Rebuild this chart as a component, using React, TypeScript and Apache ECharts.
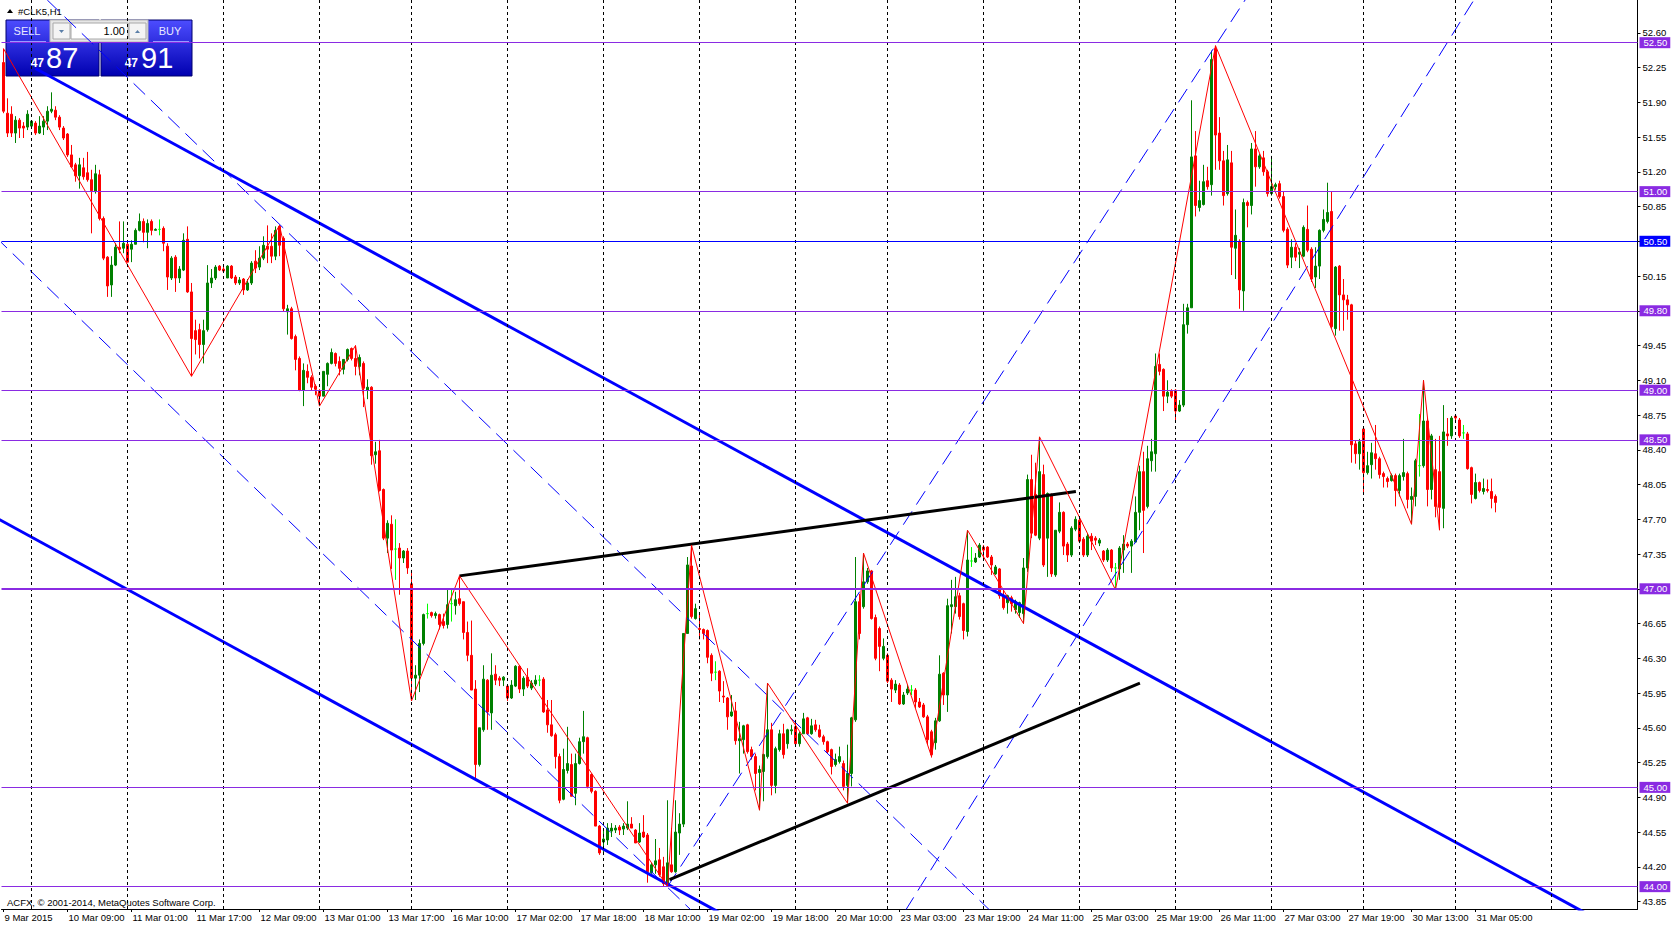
import React, { useEffect, useRef } from 'react';
import * as echarts from 'echarts';

// H1 bars of #CLK5 from 9 Mar 2015 17:00, each [open, high, low, close]
const candlesA: number[][] = [
  [52.30, 52.44, 51.79, 51.81], [51.79, 51.94, 51.55, 51.59], [51.78, 51.86, 51.55, 51.59], [51.59, 51.76, 51.49, 51.72],
  [51.72, 51.74, 51.54, 51.64], [51.66, 51.70, 51.54, 51.64], [51.65, 51.82, 51.62, 51.78], [51.66, 51.72, 51.65, 51.71],
  [51.69, 51.71, 51.57, 51.59], [51.59, 51.76, 51.58, 51.66], [51.65, 51.76, 51.57, 51.71], [51.71, 51.86, 51.62, 51.81],
  [51.81, 52.00, 51.79, 51.83], [51.82, 51.86, 51.72, 51.75], [51.75, 51.77, 51.62, 51.65], [51.64, 51.66, 51.52, 51.54],
  [51.58, 51.59, 51.35, 51.37], [51.37, 51.47, 51.24, 51.25], [51.27, 51.29, 51.10, 51.16], [51.16, 51.34, 51.03, 51.27],
  [51.24, 51.34, 51.12, 51.15], [51.19, 51.40, 51.10, 51.12], [51.12, 51.22, 50.58, 51.01], [51.00, 51.27, 50.98, 51.18],
  [51.17, 51.22, 50.71, 50.73], [50.73, 50.75, 50.31, 50.33], [50.34, 50.35, 49.94, 50.05], [50.06, 50.35, 49.94, 50.26],
  [50.26, 50.48, 50.25, 50.44], [50.44, 50.70, 50.38, 50.42], [50.43, 50.70, 50.38, 50.48], [50.47, 50.51, 50.29, 50.29],
  [50.42, 50.51, 50.29, 50.47], [50.47, 50.63, 50.47, 50.61], [50.61, 50.78, 50.60, 50.70], [50.70, 50.73, 50.49, 50.59],
  [50.59, 50.72, 50.43, 50.68], [50.70, 50.72, 50.56, 50.61], [50.61, 50.63, 50.61, 50.62], [50.62, 50.72, 50.56, 50.62],
  [50.63, 50.65, 50.40, 50.48], [50.45, 50.48, 50.01, 50.14], [50.13, 50.35, 50.11, 50.33], [50.34, 50.36, 49.99, 50.13],
  [50.13, 50.25, 50.08, 50.22], [50.21, 50.58, 50.20, 50.51], [50.52, 50.65, 49.98, 49.99], [49.99, 50.08, 49.14, 49.52],
  [49.60, 49.71, 49.36, 49.51], [49.61, 49.67, 49.32, 49.46], [49.46, 49.71, 49.27, 49.60], [49.61, 50.26, 49.59, 50.08],
  [50.08, 50.22, 50.03, 50.13], [50.13, 50.26, 50.11, 50.24], [50.25, 50.26, 50.20, 50.21], [50.22, 50.25, 50.18, 50.20],
  [50.13, 50.26, 50.13, 50.25], [50.25, 50.26, 50.12, 50.13], [50.14, 50.16, 50.06, 50.08], [50.08, 50.14, 50.06, 50.11],
  [50.12, 50.13, 49.96, 50.01], [50.01, 50.12, 50.00, 50.08], [50.08, 50.30, 50.06, 50.28], [50.30, 50.41, 50.18, 50.23],
  [50.24, 50.45, 50.21, 50.33], [50.33, 50.55, 50.31, 50.46], [50.45, 50.66, 50.28, 50.42], [50.45, 50.58, 50.28, 50.35],
  [50.35, 50.65, 50.31, 50.61], [50.65, 50.66, 50.35, 50.46], [50.53, 50.55, 49.79, 49.82], [49.79, 49.86, 49.56, 49.82],
  [49.82, 49.84, 49.51, 49.52], [49.54, 49.56, 49.20, 49.31], [49.32, 49.34, 48.99, 49.00],
];

const candlesB: number[][] = [
  [49.00, 49.27, 48.84, 49.20], [49.19, 49.26, 49.07, 49.13], [49.13, 49.15, 49.00, 49.03], [49.04, 49.06, 48.95, 49.01],
  [48.99, 49.01, 48.84, 48.94], [48.94, 49.19, 48.94, 49.19], [49.16, 49.28, 49.04, 49.27], [49.27, 49.42, 49.26, 49.38],
  [49.37, 49.38, 49.24, 49.27], [49.29, 49.34, 49.15, 49.22], [49.21, 49.31, 49.16, 49.31], [49.31, 49.42, 49.29, 49.41],
  [49.42, 49.43, 49.30, 49.32], [49.32, 49.45, 49.15, 49.24], [49.24, 49.36, 49.15, 49.33], [49.27, 49.29, 48.83, 49.02],
  [49.00, 49.11, 48.91, 49.03], [49.03, 49.04, 48.25, 48.34], [48.35, 48.48, 48.26, 48.38], [48.39, 48.50, 47.98, 47.99],
  [48.00, 48.01, 47.49, 47.51], [47.51, 47.69, 47.36, 47.66], [47.65, 47.74, 47.20, 47.39], [47.40, 47.70, 47.09, 47.40],
  [47.41, 47.46, 46.94, 47.31], [47.31, 47.39, 47.26, 47.38], [47.38, 47.41, 47.15, 47.21], [47.05, 47.19, 45.87, 46.10],
  [46.10, 46.23, 45.88, 46.13], [46.13, 46.49, 45.96, 46.45], [46.45, 46.75, 46.43, 46.74], [46.75, 46.85, 46.70, 46.75],
  [46.76, 46.77, 46.71, 46.73], [46.73, 46.77, 46.70, 46.75], [46.74, 46.75, 46.59, 46.64], [46.67, 46.75, 46.60, 46.63],
  [46.64, 46.99, 46.60, 46.84], [46.85, 46.99, 46.67, 46.85], [46.83, 46.97, 46.74, 46.89], [46.90, 47.13, 46.83, 46.85],
  [46.87, 46.87, 46.49, 46.56], [46.56, 46.67, 46.27, 46.33], [46.33, 46.68, 45.98, 45.98], [45.99, 46.08, 45.08, 45.23],
  [45.23, 45.60, 45.21, 45.60], [45.58, 46.23, 45.56, 46.09], [46.08, 46.09, 45.58, 45.76], [45.75, 46.35, 45.58, 46.13],
  [46.14, 46.23, 46.03, 46.08], [46.10, 46.12, 46.02, 46.08], [46.08, 46.12, 46.02, 46.11], [46.02, 46.03, 45.87, 45.90],
  [45.90, 46.08, 45.89, 46.03], [46.02, 46.23, 46.01, 46.22], [46.22, 46.22, 45.95, 45.99], [45.99, 46.12, 45.92, 46.10],
  [46.11, 46.20, 46.00, 46.02], [46.00, 46.08, 45.98, 46.05], [46.04, 46.13, 46.02, 46.08], [46.08, 46.13, 46.02, 46.08],
  [46.09, 46.11, 45.75, 45.76], [45.78, 45.88, 45.55, 45.63], [45.63, 45.88, 45.51, 45.52], [45.53, 45.55, 45.19, 45.31],
  [45.31, 45.34, 44.84, 44.87], [44.88, 45.39, 44.87, 45.18], [45.17, 45.61, 45.14, 45.24],
];

const candlesC: number[][] = [
  [45.23, 45.34, 44.91, 44.91], [44.94, 45.34, 44.82, 45.24], [45.24, 45.50, 45.23, 45.46], [45.46, 45.77, 45.34, 45.51],
  [45.50, 45.51, 44.99, 45.01], [45.13, 45.14, 44.94, 44.96], [44.96, 44.97, 44.61, 44.61], [44.61, 44.62, 44.32, 44.34],
  [44.45, 44.59, 44.32, 44.48], [44.47, 44.64, 44.42, 44.59], [44.56, 44.64, 44.50, 44.59], [44.57, 44.62, 44.54, 44.59],
  [44.60, 44.62, 44.52, 44.57], [44.58, 44.64, 44.52, 44.61], [44.59, 44.86, 44.57, 44.63], [44.63, 44.70, 44.59, 44.59],
  [44.57, 44.58, 44.44, 44.44], [44.45, 44.64, 44.44, 44.54], [44.55, 44.72, 44.49, 44.50], [44.52, 44.54, 44.04, 44.15],
  [44.14, 44.24, 44.13, 44.22], [44.22, 44.48, 44.13, 44.26], [44.27, 44.39, 44.10, 44.12], [44.20, 44.30, 44.00, 44.03],
  [44.03, 44.87, 44.00, 44.24], [44.22, 44.59, 44.14, 44.15], [44.15, 44.87, 44.14, 44.55], [44.54, 44.74, 44.32, 44.63],
  [44.63, 46.55, 44.60, 46.55], [46.55, 47.32, 46.55, 47.24], [47.23, 47.44, 46.70, 46.72], [46.70, 46.85, 46.69, 46.80],
  [46.60, 46.75, 46.49, 46.59], [46.59, 46.60, 46.49, 46.55], [46.58, 46.59, 46.25, 46.31], [46.33, 46.35, 46.07, 46.15],
  [46.16, 46.27, 46.08, 46.16], [46.17, 46.18, 45.86, 45.97], [45.92, 46.07, 45.85, 45.91], [45.90, 45.91, 45.58, 45.71],
  [45.72, 45.93, 45.71, 45.76], [45.77, 45.86, 45.43, 45.47], [45.47, 45.66, 45.14, 45.49], [45.48, 45.63, 45.34, 45.62],
  [45.63, 45.64, 45.34, 45.36], [45.38, 45.41, 45.28, 45.31], [45.31, 45.34, 44.97, 45.14], [45.15, 45.22, 44.77, 45.18],
  [45.16, 45.34, 44.86, 45.33], [45.31, 46.05, 45.29, 45.58], [45.58, 45.65, 44.92, 45.02], [45.02, 45.41, 44.94, 45.39],
  [45.38, 45.58, 45.36, 45.54], [45.54, 45.64, 45.29, 45.33], [45.44, 45.59, 45.39, 45.58], [45.57, 45.63, 45.53, 45.58],
  [45.61, 45.68, 45.43, 45.44], [45.44, 45.56, 45.41, 45.54], [45.54, 45.75, 45.54, 45.69], [45.70, 45.71, 45.53, 45.54],
  [45.54, 45.69, 45.53, 45.62], [45.63, 45.68, 45.56, 45.58], [45.58, 45.63, 45.50, 45.51], [45.51, 45.53, 45.43, 45.46],
  [45.46, 45.47, 45.34, 45.36], [45.38, 45.39, 45.13, 45.21], [45.23, 45.34, 45.21, 45.28], [45.26, 45.41, 45.24, 45.31],
];

const candlesD: number[][] = [
  [45.24, 45.27, 44.97, 45.01], [45.02, 45.43, 44.84, 45.14], [45.14, 45.71, 45.01, 45.70], [45.68, 47.32, 45.66, 46.87],
  [46.87, 46.95, 46.49, 46.55], [46.82, 47.36, 46.80, 47.07], [47.07, 47.21, 47.05, 47.18], [47.18, 47.19, 46.69, 46.70],
  [46.71, 46.74, 46.28, 46.30], [46.60, 46.62, 46.17, 46.42], [46.30, 46.50, 46.28, 46.42], [46.33, 46.35, 46.05, 46.07],
  [46.08, 46.10, 45.86, 45.99], [45.98, 46.08, 45.95, 46.04], [46.03, 46.05, 45.83, 45.84], [45.84, 45.96, 45.83, 45.93],
  [45.95, 46.03, 45.93, 45.99], [45.98, 46.03, 45.93, 45.98], [45.98, 46.00, 45.80, 45.86], [45.86, 45.90, 45.80, 45.81],
  [45.83, 45.85, 45.70, 45.71], [45.71, 45.73, 45.43, 45.48], [45.56, 45.58, 45.30, 45.33], [45.45, 45.70, 45.38, 45.67],
  [45.67, 46.33, 45.66, 46.14], [46.15, 46.16, 45.83, 45.93], [45.93, 46.90, 45.76, 46.83], [46.82, 47.09, 46.55, 46.84],
  [46.82, 47.12, 46.75, 46.92], [46.93, 46.96, 46.69, 46.72], [46.85, 46.86, 46.49, 46.58], [46.57, 47.59, 46.52, 47.29],
  [47.28, 47.42, 47.22, 47.28], [47.27, 47.36, 47.26, 47.31], [47.32, 47.46, 47.31, 47.44], [47.42, 47.44, 47.29, 47.39],
  [47.42, 47.43, 47.31, 47.32], [47.32, 47.34, 47.14, 47.24], [47.15, 47.24, 47.14, 47.22], [47.20, 47.21, 46.90, 46.93],
  [46.92, 47.00, 46.79, 46.81], [46.86, 46.94, 46.75, 46.93], [46.91, 46.93, 46.77, 46.85], [46.79, 46.89, 46.75, 46.87],
  [46.76, 46.87, 46.71, 46.86], [46.75, 47.31, 46.65, 47.21], [47.21, 48.15, 47.17, 48.10], [48.10, 48.35, 47.51, 47.56],
  [47.95, 48.27, 47.53, 47.54], [47.51, 48.53, 47.49, 48.18], [48.15, 48.25, 47.22, 47.24], [47.51, 47.97, 47.12, 47.96],
  [47.95, 47.96, 47.12, 47.15], [47.14, 47.59, 47.12, 47.59], [47.58, 47.87, 47.56, 47.77], [47.77, 47.78, 47.34, 47.43],
  [47.45, 47.47, 47.27, 47.34], [47.34, 47.63, 47.32, 47.61], [47.60, 47.73, 47.58, 47.70], [47.69, 47.71, 47.46, 47.48],
  [47.50, 47.52, 47.32, 47.34], [47.34, 47.56, 47.32, 47.53], [47.53, 47.56, 47.39, 47.48], [47.51, 47.53, 47.44, 47.49],
  [47.46, 47.51, 47.43, 47.49], [47.38, 47.39, 47.27, 47.29], [47.29, 47.41, 47.27, 47.39], [47.39, 47.40, 47.17, 47.21],
  [47.21, 47.26, 46.99, 47.21], [47.20, 47.43, 47.09, 47.41],
];

const candlesE: number[][] = [
  [47.39, 47.54, 47.16, 47.45], [47.45, 47.47, 47.41, 47.43], [47.43, 47.50, 47.16, 47.48], [47.47, 47.93, 47.47, 47.77],
  [47.77, 48.24, 47.59, 48.18], [48.18, 48.38, 47.36, 47.79], [47.83, 48.44, 47.81, 48.31], [48.29, 48.51, 48.18, 48.38],
  [48.36, 49.37, 48.18, 49.24], [49.26, 49.37, 49.15, 49.19], [49.21, 49.22, 48.79, 48.94], [48.94, 49.10, 48.87, 48.98],
  [48.99, 49.01, 48.92, 48.94], [49.00, 49.01, 48.70, 48.79], [48.79, 48.90, 48.78, 48.85], [48.85, 49.87, 48.83, 49.66],
  [49.66, 49.87, 49.57, 49.83], [49.83, 51.92, 49.83, 51.35], [51.36, 51.61, 50.75, 50.86], [50.84, 51.11, 50.80, 50.91],
  [50.87, 51.27, 50.86, 51.10], [51.11, 51.25, 51.02, 51.05], [51.07, 52.42, 50.96, 52.33], [52.44, 52.47, 51.22, 51.57],
  [51.59, 51.75, 51.22, 51.31], [51.31, 51.41, 50.86, 50.96], [50.98, 51.47, 50.96, 51.32], [51.29, 51.41, 50.16, 50.44],
  [50.43, 50.82, 50.12, 50.56], [50.50, 50.52, 49.82, 50.01], [50.00, 50.93, 49.80, 50.89], [50.89, 50.91, 50.64, 50.86],
  [50.86, 51.49, 50.77, 51.43], [51.43, 51.61, 51.05, 51.25], [51.25, 51.38, 51.23, 51.36], [51.34, 51.41, 51.16, 51.20],
  [51.20, 51.22, 50.95, 50.98], [50.98, 51.36, 50.96, 51.05], [51.05, 51.09, 51.02, 51.07], [51.08, 51.11, 50.93, 50.95],
  [50.95, 51.00, 50.59, 50.61], [50.62, 50.64, 50.23, 50.26], [50.34, 50.52, 50.23, 50.44], [50.44, 50.48, 50.30, 50.34],
  [50.37, 50.43, 50.23, 50.39], [50.35, 50.66, 50.34, 50.64], [50.62, 50.86, 50.39, 50.41], [50.42, 50.44, 50.09, 50.12],
  [50.14, 50.44, 50.03, 50.25], [50.25, 50.62, 50.12, 50.61], [50.61, 50.82, 50.59, 50.72], [50.70, 51.09, 50.68, 50.79],
  [50.80, 51.00, 49.62, 49.64], [49.62, 50.25, 49.55, 50.24], [50.25, 50.26, 49.60, 49.96], [49.96, 50.12, 49.60, 49.91],
  [49.91, 49.96, 49.71, 49.86], [49.86, 49.87, 48.27, 48.45], [48.46, 48.49, 48.26, 48.36], [48.36, 48.51, 48.20, 48.48],
  [48.61, 48.62, 47.95, 48.17], [48.17, 48.38, 48.15, 48.24], [48.25, 48.47, 48.11, 48.37], [48.36, 48.65, 48.20, 48.31],
  [48.31, 48.33, 48.11, 48.15], [48.16, 48.18, 48.02, 48.13], [48.11, 48.13, 48.02, 48.08], [48.09, 48.16, 48.08, 48.14],
  [48.14, 48.16, 47.83, 47.99], [47.99, 48.16, 47.93, 48.14], [48.13, 48.51, 48.09, 48.17], [48.16, 48.18, 47.81, 47.90],
  [47.90, 48.02, 47.65, 47.93], [47.93, 48.31, 47.83, 48.29], [48.24, 48.76, 48.13, 48.24], [48.24, 49.10, 48.22, 48.69],
  [48.69, 48.72, 47.83, 48.00], [48.00, 48.56, 47.90, 48.54], [48.20, 48.51, 47.72, 47.83], [48.18, 48.54, 47.59, 47.82],
  [47.81, 48.85, 47.61, 48.58], [48.56, 48.72, 48.44, 48.54], [48.54, 48.74, 48.51, 48.72], [48.74, 48.75, 48.69, 48.72],
  [48.70, 48.72, 48.52, 48.54], [48.57, 48.65, 48.51, 48.57], [48.56, 48.58, 48.20, 48.21], [48.22, 48.23, 47.86, 47.95],
  [47.91, 48.16, 47.90, 48.07], [48.07, 48.08, 47.97, 47.99], [47.98, 48.11, 47.95, 48.01], [48.00, 48.10, 47.97, 47.99],
  [47.98, 48.11, 47.81, 47.91], [47.93, 47.95, 47.77, 47.87],
];

const askPrice = 47.91;

// Time-axis labels, one every 16 bars
const timeLabels = [
  '9 Mar 2015', '10 Mar 09:00', '11 Mar 01:00', '11 Mar 17:00', '12 Mar 09:00', '13 Mar 01:00',
  '13 Mar 17:00', '16 Mar 10:00', '17 Mar 02:00', '17 Mar 18:00', '18 Mar 10:00', '19 Mar 02:00',
  '19 Mar 18:00', '20 Mar 10:00', '23 Mar 03:00', '23 Mar 19:00', '24 Mar 11:00', '25 Mar 03:00',
  '25 Mar 19:00', '26 Mar 11:00', '27 Mar 03:00', '27 Mar 19:00', '30 Mar 13:00', '31 Mar 05:00',
];
const labelStep = 16;

// Price-axis tick labels
const priceTicks = [
  43.85, 44.2, 44.55, 44.9, 45.25, 45.6, 45.95, 46.3, 46.65, 47.0, 47.35, 47.7, 48.05,
  48.4, 48.75, 49.1, 49.45, 49.8, 50.15, 50.5, 50.85, 51.2, 51.55, 51.9, 52.25, 52.6,
];

// Bars where a new day starts (vertical grid)
const dayBreakBars = [7, 31, 55, 79, 102, 126, 150, 174, 198, 221, 245, 269, 293, 317, 340, 363, 387];

// Horizontal levels
const purpleLevels = [52.5, 51.0, 49.8, 49.0, 48.5, 47.0, 45.0, 44.0];
const blueLevels = [50.5];

// Trend objects: anchor points [bar, price]
const channelUpper = [[12.4, 52.144], [279.4, 46.283]];
const channelLower = [[69.4, 46.149], [134.4, 44.72]];
const dashDescUpper = [[31.4, 52.134], [195.6, 45.746]];
const dashDescLower = [[0.1, 50.462], [69.4, 47.76]];
const dashRiseUpper = [[166, 44.0], [305.6, 52.633]];
const dashRiseLower = [[225.8, 43.78], [367.6, 52.93]];
const blackUpper = [[114, 47.13], [268.1, 47.98]];
const blackLower = [[166.5, 44.07], [284.1, 46.05]];

// ZigZag turning points [bar, price]
const zigzag = [
  [0, 52.44], [47, 49.14], [69, 50.66], [79, 48.84], [88, 49.45], [102, 45.87], [114, 47.13],
  [166, 44.0], [172, 47.44], [189, 44.77], [191, 46.05], [211, 44.84], [215, 47.36], [232, 45.31],
  [241, 47.59], [255, 46.65], [259, 48.53], [278, 46.99], [303, 52.47], [352, 47.65], [355, 49.1],
  [359, 47.59],
];

const SLOTS = 409;
const FONT = '"Liberation Sans", Arial, sans-serif';
const GREEN = '#008000';
const RED = '#ff0000';
const LIME = '#00ff00';
const PURPLE = '#8a2be2';
const BLUE = '#0000ff';

function extend(pts: number[][], x0: number, x1: number) {
  const [[ax, ay], [bx, by]] = pts;
  const s = (by - ay) / (bx - ax);
  return [[x0, ay + s * (x0 - ax)], [x1, ay + s * (x1 - ax)]];
}

function lineSeries(data: number[][], color: string, width: number, dash?: number[]) {
  return {
    type: 'line',
    xAxisIndex: 1,
    yAxisIndex: 0,
    data,
    symbol: 'none',
    showSymbol: false,
    silent: true,
    clip: true,
    z: 4,
    lineStyle: { color, width, type: dash ? dash : 'solid' },
  };
}

export default function App() {
  const ref = useRef<HTMLDivElement>(null);

  useEffect(() => {
    document.body.style.margin = '0';
    const chart = echarts.init(ref.current as HTMLDivElement, undefined, { renderer: 'svg' });

    const bars = [...candlesA, ...candlesB, ...candlesC, ...candlesD, ...candlesE];
    const categories = Array.from({ length: SLOTS }, (_, i) => String(i));
    const candleData = bars.map(([o, h, l, c]) =>
      o === c
        ? {
            value: [o, c, l, h],
            itemStyle: { color: LIME, color0: LIME, borderColor: LIME, borderColor0: LIME, borderColorDoji: LIME },
          }
        : { value: [o, c, l, h] },
    );
    const lastClose = bars[bars.length - 1][3];
    const showTime = (i: number) => i % labelStep === 0 && i / labelStep < timeLabels.length;

    const levelLabel = (bg: string) => ({
      show: true,
      position: 'end',
      distance: 2,
      color: '#fff',
      backgroundColor: bg,
      padding: [1, 3, 0, 4],
      fontSize: 9.5,
      fontFamily: FONT,
      lineHeight: 10,
    });

    const gradient = new echarts.graphic.LinearGradient(0, 0, 0, 1, [
      { offset: 0, color: '#4d4dff' },
      { offset: 1, color: '#0000b0' },
    ]);
    const [bidSmall, bidBig] = lastClose.toFixed(2).split('.');
    const [askSmall, askBig] = askPrice.toFixed(2).split('.');

    const option: any = {
      animation: false,
      backgroundColor: '#ffffff',
      textStyle: { fontFamily: FONT },
      grid: { left: 1.5, top: 0, width: 1636, height: 909 },
      xAxis: [
        {
          type: 'category',
          data: categories,
          boundaryGap: true,
          axisLine: { show: true, lineStyle: { color: '#000', width: 1 } },
          axisTick: {
            show: true,
            interval: (i: number) => showTime(i),
            alignWithLabel: true,
            length: 3,
            lineStyle: { color: '#000' },
          },
          axisLabel: {
            interval: (i: number) => showTime(i),
            formatter: (_v: string, i: number) => timeLabels[i / labelStep] ?? '',
            align: 'left',
            margin: 3,
            padding: [0, 0, 0, 1],
            fontSize: 9.5,
            color: '#000',
            fontFamily: FONT,
          },
          splitLine: { show: false },
        },
        { type: 'value', min: -0.5, max: SLOTS - 0.5, show: false },
      ],
      yAxis: {
        type: 'value',
        position: 'right',
        min: 43.775,
        max: 52.93,
        scale: true,
        axisLine: { show: true, onZero: false, lineStyle: { color: '#000', width: 1 } },
        axisTick: { show: true, customValues: priceTicks, length: 3, lineStyle: { color: '#000' } },
        axisLabel: {
          customValues: priceTicks,
          formatter: (v: number) => v.toFixed(2),
          margin: 5,
          fontSize: 9.5,
          color: '#000',
          fontFamily: FONT,
        },
        splitLine: { show: false },
      },
      series: [
        {
          type: 'line',
          xAxisIndex: 1,
          data: [],
          z: 1,
          silent: true,
          markLine: {
            silent: true,
            symbol: ['none', 'none'],
            label: { show: false },
            lineStyle: { color: '#000', width: 1, type: [3, 3] },
            data: dayBreakBars.map((b) => ({ xAxis: b })),
          },
        },
        {
          type: 'candlestick',
          xAxisIndex: 0,
          yAxisIndex: 0,
          barWidth: 2,
          z: 2,
          silent: true,
          data: candleData,
          itemStyle: {
            color: GREEN,
            color0: RED,
            borderColor: GREEN,
            borderColor0: RED,
            borderColorDoji: LIME,
            borderWidth: 1,
          },
        },
        lineSeries(extend(channelUpper, 8, 430), BLUE, 3),
        lineSeries(extend(channelLower, -2, 300), BLUE, 3),
        lineSeries(extend(dashDescUpper, -2, 300), BLUE, 1, [16, 8]),
        lineSeries(extend(dashDescLower, -2, 250), BLUE, 1, [16, 8]),
        lineSeries(extend(dashRiseUpper, dashRiseUpper[0][0], 400), BLUE, 1, [16, 8]),
        lineSeries(extend(dashRiseLower, 200, 450), BLUE, 1, [16, 8]),
        lineSeries(blackUpper, '#000', 3),
        lineSeries(blackLower, '#000', 3),
        lineSeries(zigzag, RED, 1),
        {
          type: 'line',
          xAxisIndex: 1,
          data: [],
          z: 5,
          silent: true,
          markLine: {
            silent: true,
            symbol: ['none', 'none'],
            data: [
              ...purpleLevels.map((v) => ({
                yAxis: v,
                lineStyle: { color: PURPLE, width: v === 47 ? 2 : 1, type: 'solid' },
                label: { ...levelLabel(PURPLE), formatter: v.toFixed(2) },
              })),
              ...blueLevels.map((v) => ({
                yAxis: v,
                lineStyle: { color: BLUE, width: 1, type: 'solid' },
                label: { ...levelLabel(BLUE), formatter: v.toFixed(2) },
              })),
              {
                yAxis: lastClose,
                lineStyle: { color: '#000', width: 0, opacity: 0 },
                label: { ...levelLabel('#000'), formatter: lastClose.toFixed(2) },
              },
            ],
          },
        },
      ],
      graphic: [
        {
          type: 'group',
          silent: true,
          z: 100,
          children: [
            { type: 'polygon', shape: { points: [[7, 13], [13, 13], [10, 9]] }, style: { fill: '#000' } },
            {
              type: 'text',
              x: 18,
              y: 11,
              style: { text: '#CLK5,H1', fill: '#000', font: `9.5px ${FONT}`, verticalAlign: 'middle' },
            },
            { type: 'rect', shape: { x: 6, y: 20, width: 93, height: 56 }, style: { fill: gradient, stroke: '#00006e', lineWidth: 1 } },
            { type: 'rect', shape: { x: 101, y: 20, width: 91, height: 56 }, style: { fill: gradient, stroke: '#00006e', lineWidth: 1 } },
            { type: 'rect', shape: { x: 50, y: 20, width: 98, height: 22 }, style: { fill: '#e6e6e6', stroke: '#b4b4b4', lineWidth: 1 } },
            { type: 'rect', shape: { x: 53, y: 23, width: 17, height: 16 }, style: { fill: '#f4f4f4', stroke: '#a8a8a8', lineWidth: 1 } },
            { type: 'polygon', shape: { points: [[59, 30], [64, 30], [61.5, 33]] }, style: { fill: '#5b7fa8' } },
            { type: 'rect', shape: { x: 71, y: 23, width: 57, height: 16 }, style: { fill: '#ffffff', stroke: '#a8a8a8', lineWidth: 1 } },
            {
              type: 'text',
              x: 125,
              y: 31,
              style: { text: '1.00', fill: '#000', font: `11px ${FONT}`, align: 'right', verticalAlign: 'middle' },
            },
            { type: 'rect', shape: { x: 129, y: 23, width: 17, height: 16 }, style: { fill: '#f4f4f4', stroke: '#a8a8a8', lineWidth: 1 } },
            { type: 'polygon', shape: { points: [[135, 33], [140, 33], [137.5, 30]] }, style: { fill: '#5b7fa8' } },
            {
              type: 'text',
              x: 27,
              y: 31,
              style: { text: 'SELL', fill: '#e8e8ff', font: `11px ${FONT}`, align: 'center', verticalAlign: 'middle' },
            },
            { type: 'line', shape: { x1: 10, y1: 41.5, x2: 46, y2: 41.5 }, style: { stroke: '#9a9aff', lineWidth: 1 } },
            {
              type: 'text',
              x: 170,
              y: 31,
              style: { text: 'BUY', fill: '#e8e8ff', font: `11px ${FONT}`, align: 'center', verticalAlign: 'middle' },
            },
            { type: 'line', shape: { x1: 153, y1: 41.5, x2: 189, y2: 41.5 }, style: { stroke: '#9a9aff', lineWidth: 1 } },
            {
              type: 'text',
              x: 44,
              y: 63,
              style: { text: bidSmall, fill: '#fff', font: `bold 12px ${FONT}`, align: 'right', verticalAlign: 'middle' },
            },
            {
              type: 'text',
              x: 46,
              y: 58,
              style: { text: bidBig, fill: '#fff', font: `29px ${FONT}`, align: 'left', verticalAlign: 'middle' },
            },
            {
              type: 'text',
              x: 138,
              y: 63,
              style: { text: askSmall, fill: '#fff', font: `bold 12px ${FONT}`, align: 'right', verticalAlign: 'middle' },
            },
            {
              type: 'text',
              x: 141,
              y: 58,
              style: { text: askBig, fill: '#fff', font: `29px ${FONT}`, align: 'left', verticalAlign: 'middle' },
            },
            {
              type: 'text',
              x: 7,
              y: 902,
              style: {
                text: 'ACFX, © 2001-2014, MetaQuotes Software Corp.',
                fill: '#000',
                font: `9.5px ${FONT}`,
                verticalAlign: 'middle',
              },
            },
          ],
        },
      ],
    };

    chart.setOption(option);
    return () => chart.dispose();
  }, []);

  return (
    <div
      ref={ref}
      style={{ position: 'absolute', left: 0, top: 0, width: 1677, height: 926, background: '#fff' }}
    />
  );
}
